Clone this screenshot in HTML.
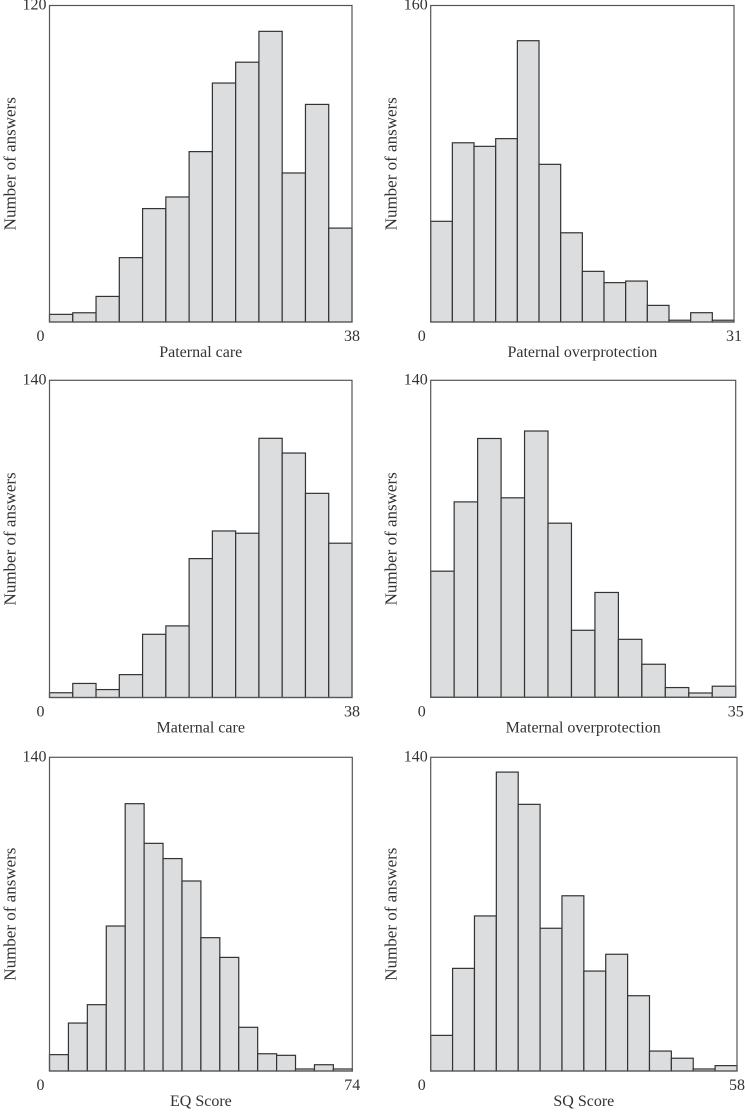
<!DOCTYPE html>
<html><head><meta charset="utf-8"><style>
html,body{margin:0;padding:0;background:#fff}
svg text{font-family:"Liberation Serif",serif;fill:#333}
</style></head><body>
<svg id="fig" width="745" height="1114" viewBox="0 0 745 1114" xmlns="http://www.w3.org/2000/svg"></svg>
<script>
const titles = ["Paternal care","Paternal overprotection","Maternal care","Maternal overprotection","EQ Score","SQ Score"];
const yMaxes = [120,160,140,140,140,140];
const xMaxes = [38,31,38,35,74,58];
const counts1 = [2.9,3.5,9.7,24.4,43,47.4,64.6,90.6,98.5,110.2,56.5,82.5,35.6];
const counts2 = [50.9,90.6,88.8,92.7,142.2,79.7,45.1,25.6,19.9,20.7,8.4,0.9,4.7,0.9];
const counts3 = [2.1,6.2,3.5,10.1,27.9,31.6,61.3,73.5,72.5,114.4,107.9,90.1,68.1];
const counts4 = [55.7,86.3,114.3,88.1,117.6,76.9,29.6,46.3,25.6,14.6,4.3,1.9,4.9];
const counts5 = [7.3,21.4,29.6,64.7,119.3,101.6,94.8,84.8,59.5,50.7,19.5,7.7,7.0,0.9,2.8,0.9];
const counts6 = [15.9,45.8,69.2,133.4,119,63.7,78.2,44.6,52.1,33.6,8.9,5.7,0.9,2.4];
const allCounts = [counts1,counts2,counts3,counts4,counts5,counts6];
const frames = [
  {l:49.5,r:352,t:5.5,b:322},{l:430.7,r:734,t:5.5,b:322},
  {l:49.5,r:352,t:380.3,b:697.5},{l:430.7,r:735.7,t:380.3,b:697.3},
  {l:49.5,r:352.3,t:757.3,b:1071},{l:430.7,r:737,t:757.3,b:1071}
];
const NS="http://www.w3.org/2000/svg";
const svg=document.getElementById('fig');
function mk(tag,attrs,parent){const e=document.createElementNS(NS,tag);for(const k in attrs)e.setAttribute(k,attrs[k]);(parent||svg).appendChild(e);return e;}
frames.forEach((f,i)=>{
  const g=mk('g',{});
  
  
  const data=allCounts[i], n=data.length, ymax=yMaxes[i];
  const bw=(f.r-f.l)/n;
  const xs=k=>f.l+k*bw;
  const ys=v=>f.b-(v/ymax)*(f.b-f.t);
  data.forEach((v,k)=>{
    const r=mk('rect',{x:xs(k),y:ys(v),width:bw,height:f.b-ys(v),fill:'#dcdddf',stroke:'#333','stroke-width':1.2},g);
    
    
  });
  const fr=mk('rect',{x:f.l,y:f.t,width:f.r-f.l,height:f.b-f.t,fill:'none',stroke:'#555','stroke-width':1.2},g);
  
  
  const yt=mk('text',{x:f.l-3,y:f.t+4,'text-anchor':'end','font-size':16},g);yt.textContent=ymax;
  
  
  const x0=mk('text',{x:f.l-9,y:f.b+19,'text-anchor':'middle','font-size':16},g);x0.textContent='0';
  
  
  const x1=mk('text',{x:f.r,y:f.b+19,'text-anchor':'middle','font-size':16},g);x1.textContent=xMaxes[i];
  
  
  const xt=mk('text',{x:(f.l+f.r)/2,y:f.b+35,'text-anchor':'middle','font-size':16},g);xt.textContent=titles[i];
  
  
  const cy=(f.t+f.b)/2, cx=f.l-34;
  const ya=mk('text',{x:cx,y:cy,'text-anchor':'middle','font-size':17,transform:`rotate(-90 ${cx} ${cy})`},g);ya.textContent='Number of answers';
  
  
});
</script>
</body></html>
